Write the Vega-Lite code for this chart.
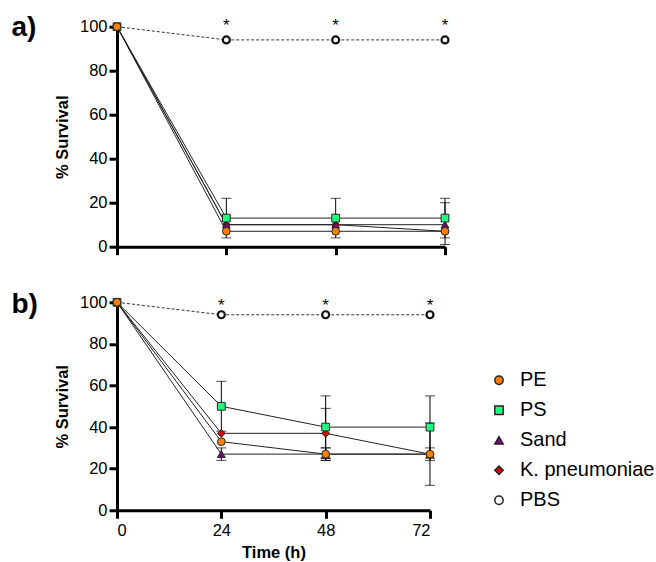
{
  "$schema": "https://vega.github.io/schema/vega-lite/v6.json",
  "padding": {"left": 11, "top": 13.7, "right": 0, "bottom": 0},
  "background": "white",
  "datasets": {
    "d": [
      {"p": "a", "s": "PBS", "t": 0, "v": 100},
      {"p": "a", "s": "PBS", "t": 24, "v": 94},
      {"p": "a", "s": "PBS", "t": 48, "v": 94},
      {"p": "a", "s": "PBS", "t": 72, "v": 94},
      {"p": "a", "s": "K. pneumoniae", "t": 0, "v": 100},
      {"p": "a", "s": "K. pneumoniae", "t": 24, "v": 10},
      {"p": "a", "s": "K. pneumoniae", "t": 48, "v": 10},
      {"p": "a", "s": "K. pneumoniae", "t": 72, "v": 7},
      {"p": "a", "s": "Sand", "t": 0, "v": 100},
      {"p": "a", "s": "Sand", "t": 24, "v": 10},
      {"p": "a", "s": "Sand", "t": 48, "v": 10},
      {"p": "a", "s": "Sand", "t": 72, "v": 10, "lo": 1, "hi": 20},
      {"p": "a", "s": "PS", "t": 0, "v": 100},
      {"p": "a", "s": "PS", "t": 24, "v": 13, "lo": 4, "hi": 22},
      {"p": "a", "s": "PS", "t": 48, "v": 13, "lo": 4, "hi": 22},
      {"p": "a", "s": "PS", "t": 72, "v": 13, "lo": 4, "hi": 22},
      {"p": "a", "s": "PE", "t": 0, "v": 100},
      {"p": "a", "s": "PE", "t": 24, "v": 7},
      {"p": "a", "s": "PE", "t": 48, "v": 7},
      {"p": "a", "s": "PE", "t": 72, "v": 7},
      {"p": "b", "s": "PBS", "t": 0, "v": 100},
      {"p": "b", "s": "PBS", "t": 24, "v": 94},
      {"p": "b", "s": "PBS", "t": 48, "v": 94},
      {"p": "b", "s": "PBS", "t": 72, "v": 94},
      {"p": "b", "s": "K. pneumoniae", "t": 0, "v": 100},
      {"p": "b", "s": "K. pneumoniae", "t": 24, "v": 37},
      {"p": "b", "s": "K. pneumoniae", "t": 48, "v": 37, "lo": 25, "hi": 49},
      {"p": "b", "s": "K. pneumoniae", "t": 72, "v": 27},
      {"p": "b", "s": "Sand", "t": 0, "v": 100},
      {"p": "b", "s": "Sand", "t": 24, "v": 27, "lo": 24, "hi": 30},
      {"p": "b", "s": "Sand", "t": 48, "v": 27, "lo": 24, "hi": 30},
      {"p": "b", "s": "Sand", "t": 72, "v": 27, "lo": 24, "hi": 30},
      {"p": "b", "s": "PS", "t": 0, "v": 100},
      {"p": "b", "s": "PS", "t": 24, "v": 50, "lo": 38, "hi": 62},
      {"p": "b", "s": "PS", "t": 48, "v": 40, "lo": 25, "hi": 55},
      {"p": "b", "s": "PS", "t": 72, "v": 40, "lo": 25, "hi": 55},
      {"p": "b", "s": "PE", "t": 0, "v": 100},
      {"p": "b", "s": "PE", "t": 24, "v": 33},
      {"p": "b", "s": "PE", "t": 48, "v": 27, "lo": 24, "hi": 30},
      {"p": "b", "s": "PE", "t": 72, "v": 27, "lo": 12, "hi": 42}
    ]
  },
  "resolve": {"scale": {"fill": "independent", "shape": "independent"}, "legend": {"fill": "independent", "shape": "independent"}},
  "vconcat": [
    {
      "width": 328,
      "height": 220,
      "title": {"text": "a)", "anchor": "start", "frame": "bounds", "fontSize": 28, "fontWeight": "bold", "font": "Liberation Sans", "color": "#000", "baseline": "top", "dx": -43, "dy": 25, "offset": 0},
      "data": {"name": "d"},
      "transform": [{"filter": "datum.p === 'a'"}],
      "encoding": {
        "x": {"field": "t", "type": "quantitative", "scale": {"domain": [0, 72], "nice": false, "zero": false}, "axis": {"values": [0, 24, 48, 72], "labels": false, "title": null}}
      },
      "layer": [
        {"transform": [{"filter": "datum.s !== 'PBS'"}], "mark": {"type": "line", "color": "#222", "strokeWidth": 1}, "encoding": {"y": {"field": "v", "type": "quantitative", "scale": {"domain": [0, 100], "nice": false}, "axis": {"values": [0, 20, 40, 60, 80, 100], "title": "% Survival"}}, "detail": {"field": "s"}}},
        {"transform": [{"filter": "datum.s === 'PBS'"}], "mark": {"type": "line", "color": "#333", "strokeWidth": 1, "strokeDash": [3, 2]}, "encoding": {"y": {"field": "v", "type": "quantitative", "axis": {"values": [0, 20, 40, 60, 80, 100], "title": "% Survival"}}}},
        {"transform": [{"filter": "isValid(datum.lo)"}], "mark": {"type": "rule", "color": "#000", "strokeWidth": 1}, "encoding": {"y": {"field": "lo", "type": "quantitative", "axis": {"values": [0, 20, 40, 60, 80, 100], "title": "% Survival"}}, "y2": {"field": "hi"}}},
        {"transform": [{"filter": "isValid(datum.lo)"}], "mark": {"type": "tick", "orient": "horizontal", "color": "#000", "size": 10, "thickness": 1}, "encoding": {"y": {"field": "lo", "type": "quantitative", "axis": {"values": [0, 20, 40, 60, 80, 100], "title": "% Survival"}}}},
        {"transform": [{"filter": "isValid(datum.hi)"}], "mark": {"type": "tick", "orient": "horizontal", "color": "#000", "size": 10, "thickness": 1}, "encoding": {"y": {"field": "hi", "type": "quantitative", "axis": {"values": [0, 20, 40, 60, 80, 100], "title": "% Survival"}}}},
        {"transform": [{"filter": "datum.s !== 'PBS'"}], "mark": {"type": "point", "filled": true, "size": 60, "stroke": "#222", "strokeWidth": 1, "opacity": 1},
         "encoding": {
           "y": {"field": "v", "type": "quantitative", "axis": {"values": [0, 20, 40, 60, 80, 100], "title": "% Survival"}},
           "fill": {"field": "s", "type": "nominal", "scale": {"domain": ["PE", "PS", "Sand", "K. pneumoniae", "PBS"], "range": ["#ff8000", "#1eff80", "#800080", "#e00000", "#ffffff"]}, "legend": null},
           "shape": {"field": "s", "type": "nominal", "scale": {"domain": ["PE", "PS", "Sand", "K. pneumoniae", "PBS"], "range": ["circle", "square", "triangle-up", "diamond", "circle"]}, "legend": null}
         }},
        {"transform": [{"filter": "datum.s === 'PBS' && datum.t > 0"}], "mark": {"type": "point", "filled": true, "size": 49, "stroke": "#111", "strokeWidth": 2.2, "opacity": 1},
         "encoding": {
           "y": {"field": "v", "type": "quantitative", "axis": {"values": [0, 20, 40, 60, 80, 100], "title": "% Survival"}},
           "fill": {"field": "s", "type": "nominal", "legend": null},
           "shape": {"field": "s", "type": "nominal", "legend": null}
         }},
        {"transform": [{"filter": "datum.s === 'PBS' && datum.t > 0"}], "mark": {"type": "text", "text": "*", "fontSize": 17, "font": "Liberation Sans", "color": "#000", "dy": -14, "baseline": "middle"},
         "encoding": {"y": {"field": "v", "type": "quantitative", "axis": {"values": [0, 20, 40, 60, 80, 100], "title": "% Survival"}}}}
      ]
    },
    {
      "width": 313,
      "height": 208,
      "title": {"text": "b)", "anchor": "start", "frame": "bounds", "fontSize": 28, "fontWeight": "bold", "font": "Liberation Sans", "color": "#000", "baseline": "top", "dx": -43, "dy": 25, "offset": 0},
      "data": {"name": "d"},
      "transform": [{"filter": "datum.p === 'b'"}],
      "encoding": {
        "x": {"field": "t", "type": "quantitative", "scale": {"domain": [0, 72], "nice": false, "zero": false}, "axis": {"values": [0, 24, 48, 72], "title": "Time (h)"}}
      },
      "layer": [
        {"transform": [{"filter": "datum.s !== 'PBS'"}], "mark": {"type": "line", "color": "#222", "strokeWidth": 1}, "encoding": {"y": {"field": "v", "type": "quantitative", "scale": {"domain": [0, 100], "nice": false}, "axis": {"values": [0, 20, 40, 60, 80, 100], "title": "% Survival"}}, "detail": {"field": "s"}}},
        {"transform": [{"filter": "datum.s === 'PBS'"}], "mark": {"type": "line", "color": "#333", "strokeWidth": 1, "strokeDash": [3, 2]}, "encoding": {"y": {"field": "v", "type": "quantitative", "axis": {"values": [0, 20, 40, 60, 80, 100], "title": "% Survival"}}}},
        {"transform": [{"filter": "isValid(datum.lo)"}], "mark": {"type": "rule", "color": "#000", "strokeWidth": 1}, "encoding": {"y": {"field": "lo", "type": "quantitative", "axis": {"values": [0, 20, 40, 60, 80, 100], "title": "% Survival"}}, "y2": {"field": "hi"}}},
        {"transform": [{"filter": "isValid(datum.lo)"}], "mark": {"type": "tick", "orient": "horizontal", "color": "#000", "size": 10, "thickness": 1}, "encoding": {"y": {"field": "lo", "type": "quantitative", "axis": {"values": [0, 20, 40, 60, 80, 100], "title": "% Survival"}}}},
        {"transform": [{"filter": "isValid(datum.hi)"}], "mark": {"type": "tick", "orient": "horizontal", "color": "#000", "size": 10, "thickness": 1}, "encoding": {"y": {"field": "hi", "type": "quantitative", "axis": {"values": [0, 20, 40, 60, 80, 100], "title": "% Survival"}}}},
        {"transform": [{"filter": "datum.s !== 'PBS'"}], "mark": {"type": "point", "filled": true, "size": 60, "stroke": "#222", "strokeWidth": 1, "opacity": 1},
         "encoding": {
           "y": {"field": "v", "type": "quantitative", "axis": {"values": [0, 20, 40, 60, 80, 100], "title": "% Survival"}},
           "fill": {"field": "s", "type": "nominal", "scale": {"domain": ["PE", "PS", "Sand", "K. pneumoniae", "PBS"], "range": ["#ff8000", "#1eff80", "#800080", "#e00000", "#ffffff"]},
             "legend": {"orient": "none", "legendX": 372, "legendY": 68, "title": null, "padding": 0, "labelFontSize": 20, "labelFont": "Liberation Sans", "labelColor": "#000", "labelLimit": 300, "symbolSize": 70, "rowPadding": 10, "labelOffset": 11,
               "encode": {
                 "symbols": {"update": {
                   "stroke": {"value": "#111"},
                   "strokeWidth": {"signal": "datum.value === 'PBS' ? 1.6 : 1"},
                   "shape": {"signal": "datum.value === 'PE' ? 'M-2.5,0H-1M1,0H2.5M-1,0A1,1 0 1,0 1,0A1,1 0 1,0 -1,0Z' : datum.value === 'PS' ? 'M-2.5,0H-0.9M0.9,0H2.5M-0.9,-0.9H0.9V0.9H-0.9Z' : datum.value === 'Sand' ? 'M-2.5,0.4H-0.9M0.9,0.4H2.5M0,-1L1,0.8H-1Z' : datum.value === 'K. pneumoniae' ? 'M-2.5,0H-0.9M0.9,0H2.5M0,-0.9L0.9,0L0,0.9L-0.9,0Z' : 'M-2.5,0H-2M-1.6,0H-1.1M1.1,0H1.6M2,0H2.5M-0.8,0A0.8,0.8 0 1,0 0.8,0A0.8,0.8 0 1,0 -0.8,0Z'"}
                 }},
                 "labels": {"update": {"fontStyle": {"signal": "datum.value === 'K. pneumoniae' ? 'italic' : 'normal'"}}}
               }}},
           "shape": {"field": "s", "type": "nominal", "scale": {"domain": ["PE", "PS", "Sand", "K. pneumoniae", "PBS"], "range": ["circle", "square", "triangle-up", "diamond", "circle"]},
             "legend": {"orient": "none", "legendX": 372, "legendY": 68, "title": null, "padding": 0, "labelFontSize": 20, "labelFont": "Liberation Sans", "labelColor": "#000", "labelLimit": 300, "symbolSize": 70, "rowPadding": 10, "labelOffset": 11,
               "encode": {
                 "symbols": {"update": {
                   "stroke": {"value": "#111"},
                   "strokeWidth": {"signal": "datum.value === 'PBS' ? 1.6 : 1"},
                   "shape": {"signal": "datum.value === 'PE' ? 'M-2.5,0H-1M1,0H2.5M-1,0A1,1 0 1,0 1,0A1,1 0 1,0 -1,0Z' : datum.value === 'PS' ? 'M-2.5,0H-0.9M0.9,0H2.5M-0.9,-0.9H0.9V0.9H-0.9Z' : datum.value === 'Sand' ? 'M-2.5,0.4H-0.9M0.9,0.4H2.5M0,-1L1,0.8H-1Z' : datum.value === 'K. pneumoniae' ? 'M-2.5,0H-0.9M0.9,0H2.5M0,-0.9L0.9,0L0,0.9L-0.9,0Z' : 'M-2.5,0H-2M-1.6,0H-1.1M1.1,0H1.6M2,0H2.5M-0.8,0A0.8,0.8 0 1,0 0.8,0A0.8,0.8 0 1,0 -0.8,0Z'"}
                 }},
                 "labels": {"update": {"fontStyle": {"signal": "datum.value === 'K. pneumoniae' ? 'italic' : 'normal'"}}}
               }}}
         }},
        {"transform": [{"filter": "datum.s === 'PBS' && datum.t > 0"}], "mark": {"type": "point", "filled": true, "size": 49, "stroke": "#111", "strokeWidth": 2.2, "opacity": 1},
         "encoding": {
           "y": {"field": "v", "type": "quantitative", "axis": {"values": [0, 20, 40, 60, 80, 100], "title": "% Survival"}},
           "fill": {"field": "s", "type": "nominal"},
           "shape": {"field": "s", "type": "nominal"}
         }},
        {"transform": [{"filter": "datum.s === 'PBS' && datum.t > 0"}], "mark": {"type": "text", "text": "*", "fontSize": 17, "font": "Liberation Sans", "color": "#000", "dy": -9, "baseline": "middle"},
         "encoding": {"y": {"field": "v", "type": "quantitative", "axis": {"values": [0, 20, 40, 60, 80, 100], "title": "% Survival"}}}}
      ]
    }
  ],
  "spacing": 34.6,
  "config": {
    "font": "Liberation Sans",
    "view": {"stroke": null},
    "axis": {"grid": false, "domainColor": "#000", "domainWidth": 3, "tickColor": "#000", "tickWidth": 3, "tickSize": 8, "labelFont": "Liberation Sans", "labelFontSize": 16.5, "labelColor": "#000", "labelPadding": 2, "titleFont": "Liberation Sans", "titleFontSize": 16.5, "titleFontWeight": "bold", "titleColor": "#000"},
    "axisY": {"titlePadding": 9},
    "axisX": {"titlePadding": 6, "labelPadding": 4}
  }
}
